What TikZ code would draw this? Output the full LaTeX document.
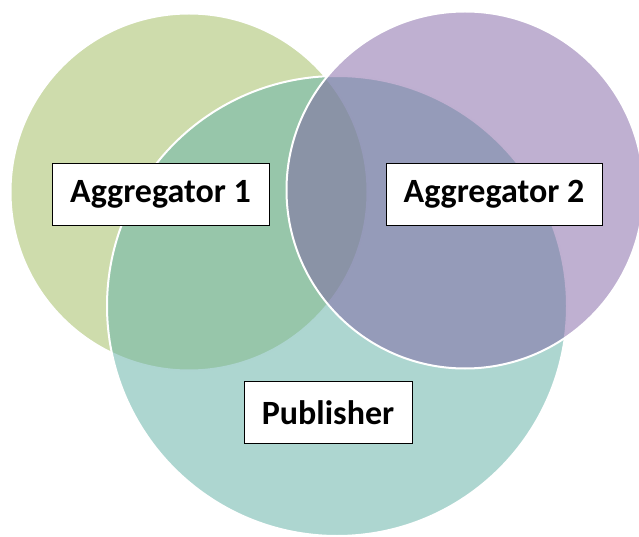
\documentclass[tikz,border=0pt]{standalone}
\usepackage{fontspec}
\setmainfont{Carlito}
\usepackage{xcolor}
\usepackage{tikz}

\definecolor{aggone}{RGB}{206,220,172}
\definecolor{aggtwo}{RGB}{127,97,163}
\definecolor{pubcol}{RGB}{106,180,170}

\begin{document}
\begin{tikzpicture}[x=1pt,y=-1pt,
  set node/.style={circle,draw=white,line width=2pt,inner sep=0pt},
  label node/.style={rectangle,draw=black,fill=white,line width=0.8pt,inner sep=0pt,minimum height=62pt,font=\fontsize{34}{40}\selectfont\bfseries}]
  \useasboundingbox (0,0) rectangle (639,537);

  % the three sets, drawn back to front
  \node[set node,fill=aggone,minimum size=357pt]                   (A1) at (189,192) {};
  \node[set node,fill=pubcol,fill opacity=0.55,minimum size=460pt] (P)  at (337,306) {};
  \node[set node,fill=aggtwo,fill opacity=0.5,minimum size=357pt]  (A2) at (465,190) {};

  % labels
  \node[label node,minimum width=217pt] (l1) at (160.5,194) {Aggregator 1};
  \node[label node,minimum width=216pt] (l2) at (494,194)   {Aggregator 2};
  \node[label node,minimum width=168pt] (l3) at (328,412.5) {Publisher};
\end{tikzpicture}
\end{document}
